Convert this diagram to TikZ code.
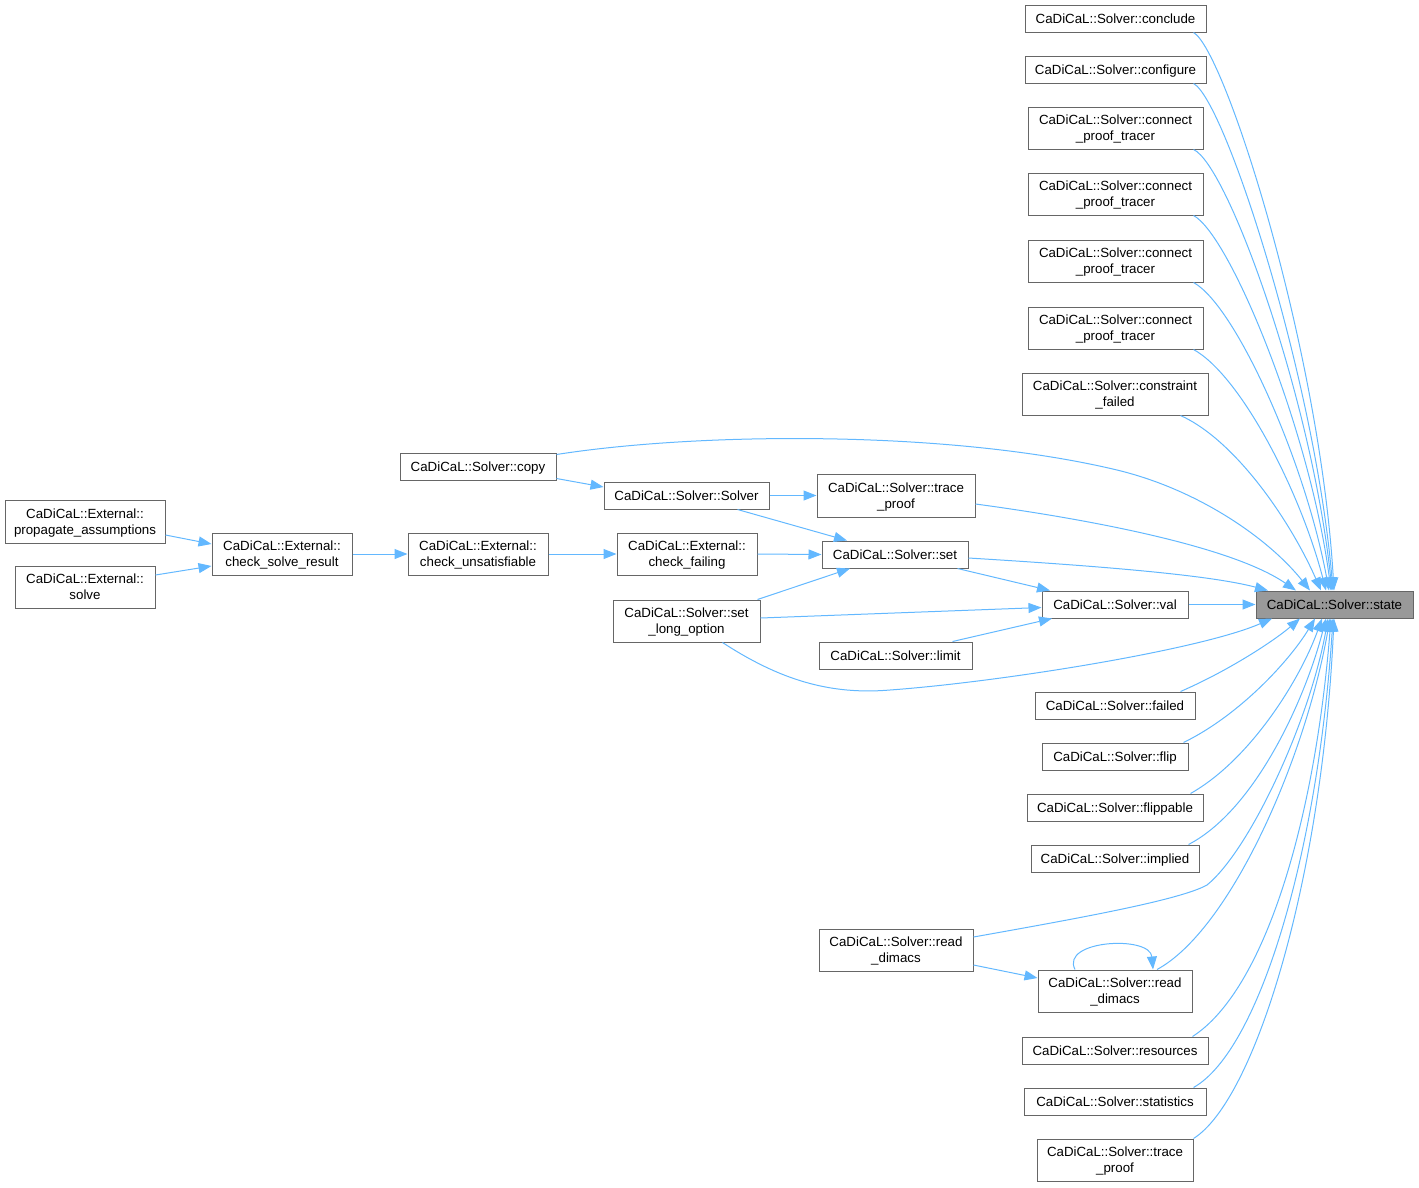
\documentclass[tikz,border=0pt]{standalone}
\usepackage{fontspec}
\setmainfont{Liberation Sans}
\usetikzlibrary{arrows.meta}
\definecolor{edgeblue}{HTML}{63B8FF}
\definecolor{boxgray}{HTML}{666666}
\definecolor{statefill}{HTML}{999999}
\tikzset{
  box/.style={draw=boxgray, fill=white, line width=1pt, inner sep=0pt, align=center,
    text depth=0pt, font=\fontsize{13.3}{16}\selectfont},
  edge/.style={draw=edgeblue, line width=1pt, -{Triangle[length=13pt,width=10pt]}},
}
\begin{document}
\begin{tikzpicture}[x=1pt,y=-1pt]
\path[use as bounding box] (0,0) rectangle (1419,1187);
% right column
\node[box, minimum width=181, minimum height=27] (conclude) at (1115.5,18.5) {CaDiCaL::Solver::conclude};
\node[box, minimum width=181, minimum height=27] (configure) at (1115.5,69.5) {CaDiCaL::Solver::configure};
\node[box, minimum width=175, minimum height=42] (cpt1) at (1115.5,128) {CaDiCaL::Solver::connect\\\_proof\_tracer};
\node[box, minimum width=175, minimum height=42] (cpt2) at (1115.5,194) {CaDiCaL::Solver::connect\\\_proof\_tracer};
\node[box, minimum width=175, minimum height=42] (cpt3) at (1115.5,261) {CaDiCaL::Solver::connect\\\_proof\_tracer};
\node[box, minimum width=175, minimum height=42] (cpt4) at (1115.5,328) {CaDiCaL::Solver::connect\\\_proof\_tracer};
\node[box, minimum width=186, minimum height=42] (cfail) at (1115,394) {CaDiCaL::Solver::constraint\\\_failed};
\node[box, minimum width=160, minimum height=27] (failed) at (1115,705.5) {CaDiCaL::Solver::failed};
\node[box, minimum width=146, minimum height=27] (flip) at (1115,756.5) {CaDiCaL::Solver::flip};
\node[box, minimum width=176, minimum height=27] (flippable) at (1115,807.5) {CaDiCaL::Solver::flippable};
\node[box, minimum width=168, minimum height=27] (implied) at (1115,858.5) {CaDiCaL::Solver::implied};
\node[box, minimum width=154, minimum height=42] (rd2) at (1115,991) {CaDiCaL::Solver::read\\\_dimacs};
\node[box, minimum width=186, minimum height=27] (res) at (1115,1050.5) {CaDiCaL::Solver::resources};
\node[box, minimum width=182, minimum height=27] (stat) at (1115,1101.5) {CaDiCaL::Solver::statistics};
\node[box, minimum width=156, minimum height=42] (tpb) at (1115,1160) {CaDiCaL::Solver::trace\\\_proof};
% target
\node[box, fill=statefill, minimum width=157, minimum height=27] (state) at (1334.5,604.5) {CaDiCaL::Solver::state};
% middle
\node[box, minimum width=146, minimum height=27] (val) at (1115,604.5) {CaDiCaL::Solver::val};
\node[box, minimum width=153, minimum height=27] (limit) at (895.5,655.5) {CaDiCaL::Solver::limit};
\node[box, minimum width=146, minimum height=27] (set) at (895,554.5) {CaDiCaL::Solver::set};
\node[box, minimum width=158, minimum height=43] (tpm) at (896,495.5) {CaDiCaL::Solver::trace\\\_proof};
\node[box, minimum width=165, minimum height=27] (solver) at (686.5,495.5) {CaDiCaL::Solver::Solver};
\node[box, minimum width=156, minimum height=27] (copy) at (478,466.5) {CaDiCaL::Solver::copy};
\node[box, minimum width=140, minimum height=42] (chkf) at (687,554) {CaDiCaL::External::\\check\_failing};
\node[box, minimum width=147, minimum height=42] (slo) at (686.5,621) {CaDiCaL::Solver::set\\\_long\_option};
\node[box, minimum width=140, minimum height=42] (chku) at (478,554) {CaDiCaL::External::\\check\_unsatisfiable};
\node[box, minimum width=140, minimum height=42] (chks) at (282,554) {CaDiCaL::External::\\check\_solve\_result};
\node[box, minimum width=160, minimum height=43] (prop) at (85,521.5) {CaDiCaL::External::\\propagate\_assumptions};
\node[box, minimum width=140, minimum height=42] (solve) at (85,587) {CaDiCaL::External::\\solve};
\node[box, minimum width=154, minimum height=42] (rdl) at (896,950) {CaDiCaL::Solver::read\\\_dimacs};

% edges into state from top
\draw[edge] ([xshift=-13]conclude.south east) .. controls (1225,50) and (1320,350) .. ([xshift=-0.5]state.north);
\draw[edge] ([xshift=-13]configure.south east) .. controls (1225,100) and (1315,380) .. ([xshift=-1.5]state.north);
\draw[edge] ([xshift=-10]cpt1.south east) .. controls (1228,165) and (1312,400) .. ([xshift=-2.5]state.north);
\draw[edge] ([xshift=-10]cpt2.south east) .. controls (1230,235) and (1310,430) .. ([xshift=-3.5]state.north);
\draw[edge] ([xshift=-10]cpt3.south east) .. controls (1235,305) and (1305,460) .. ([xshift=-5.5]state.north);
\draw[edge] ([xshift=-10]cpt4.south east) .. controls (1240,375) and (1300,490) .. ([xshift=-8.5]state.north);
\draw[edge] ([xshift=-28]cfail.south east) .. controls (1235,440) and (1290,520) .. ([xshift=-13.5]state.north);
\draw[edge] ([yshift=-2]copy.north east) .. controls (700,432) and (950,430) .. (1117,470) .. controls (1200,490) and (1270,540) .. ([xshift=-24.5]state.north);
\draw[edge] ([yshift=-8.5]tpm.east) .. controls (1080,518) and (1230,545) .. ([xshift=-38.5]state.north);
\draw[edge] ([yshift=-3.5]set.east) .. controls (1100,566) and (1210,575) .. ([xshift=-66.5]state.north);
\draw[edge] (val.east) -- (state.west);
% edges into state from bottom
\draw[edge] ([xshift=36]slo.south) .. controls (780,680) and (830,695) .. (890,690) .. controls (1000,682) and (1200,650) .. ([xshift=-62.5]state.south);
\draw[edge] ([xshift=-15]failed.north east) .. controls (1230,670) and (1275,640) .. ([xshift=-34.5]state.south);
\draw[edge] ([xshift=-5]flip.north east) .. controls (1240,715) and (1290,660) .. ([xshift=-19.5]state.south);
\draw[edge] ([xshift=-13]flippable.north east) .. controls (1250,760) and (1300,680) .. ([xshift=-12.5]state.south);
\draw[edge] ([xshift=-11]implied.north east) .. controls (1255,810) and (1305,700) .. ([xshift=-8.5]state.south);
\draw[edge] ([yshift=13]rdl.east) .. controls (1080,918) and (1180,900) .. (1207,885) .. controls (1250,850) and (1310,720) .. ([xshift=-6.5]state.south);
\draw[edge] ([xshift=42]rd2.north) .. controls (1230,930) and (1305,760) .. ([xshift=-4.5]state.south);
\draw[edge] ([xshift=-16]res.north east) .. controls (1265,990) and (1315,820) .. ([xshift=-3.5]state.south);
\draw[edge] ([xshift=-13]stat.north east) .. controls (1260,1050) and (1318,850) .. ([xshift=-1.5]state.south);
\draw[edge] (tpb.north east) .. controls (1255,1100) and (1322,880) .. ([xshift=-0.5]state.south);
% other edges
\draw[edge] ([yshift=2]copy.south east) -- ([yshift=8.5]solver.west);
\draw[edge] (solver.east) -- (tpm.west);
\draw[edge] ([xshift=-32]solver.south east) -- ([xshift=-48]set.north);
\draw[edge] (chkf.east) -- (set.west);
\draw[edge] ([xshift=-3]slo.north east) -- ([xshift=-45]set.south);
\draw[edge] ([xshift=-11]set.south east) -- ([xshift=-65]val.north);
\draw[edge] ([yshift=3]slo.east) -- ([yshift=-3]val.west);
\draw[edge] ([xshift=-20]limit.north east) -- ([xshift=-63]val.south);
\draw[edge] (chku.east) -- (chkf.west);
\draw[edge] (chks.east) -- (chku.west);
\draw[edge] ([yshift=-13.5]prop.east) -- ([yshift=10]chks.west);
\draw[edge] ([yshift=12]solve.east) -- ([yshift=-12]chks.west);
\draw[edge] ([yshift=-15]rdl.east) -- ([yshift=13]rd2.west);
\draw[edge] ([xshift=-40]rd2.north) .. controls (1060,940) and (1150,935) .. ([xshift=38]rd2.north);
\end{tikzpicture}
\end{document}
